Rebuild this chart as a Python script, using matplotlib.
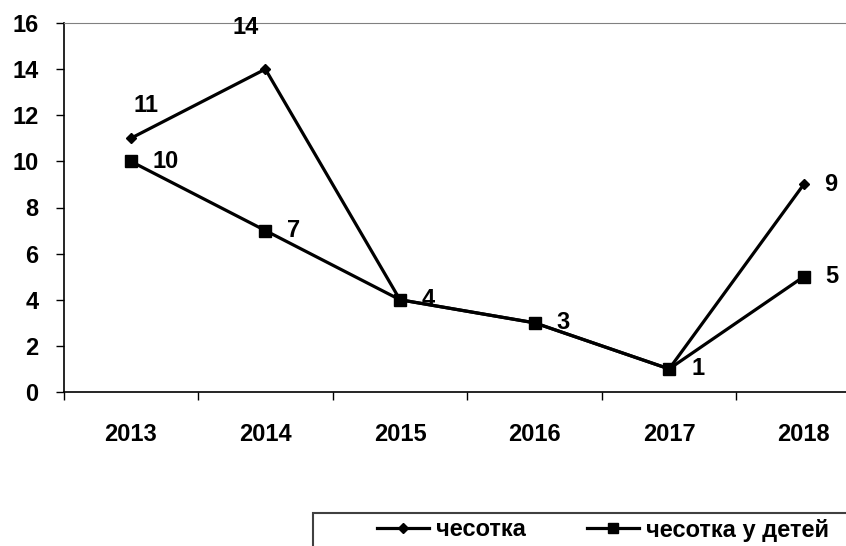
import matplotlib; matplotlib.use('Agg')
import matplotlib.pyplot as plt
from matplotlib.lines import Line2D
from matplotlib.patches import Rectangle

plt.rcParams['font.family'] = ['Liberation Sans', 'DejaVu Sans']
plt.rcParams['font.weight'] = 'bold'

years = ['2013', '2014', '2015', '2016', '2017', '2018']
scabies = [11, 14, 4, 3, 1, 9]
scabies_kids = [10, 7, 4, 3, 1, 5]
names = ['чесотка', 'чесотка у детей']

FS = 17

fig = plt.figure(figsize=(8.46, 5.46), dpi=100)
# plot area runs past the right edge of the picture, as in the reference
ax = fig.add_axes([63.5/846, 154/546, 807.5/846, 369/546])

x = list(range(len(years)))
ax.plot(x, scabies, '-', color='black', lw=2.3, marker='D', ms=5, zorder=3)
ax.plot(x, scabies_kids, '-', color='black', lw=2.3, marker='s', ms=8, zorder=4)

ax.set_xlim(-0.5, len(years) - 0.5)
ax.set_ylim(0, 16)
ax.set_yticks(range(0, 17, 2))
ax.set_xticks(x)
ax.set_xticklabels(years)
ax.set_xticks([i - 0.5 for i in range(len(years) + 1)], minor=True)
ax.tick_params(axis='x', which='major', length=0, pad=22, labelsize=FS)
ax.tick_params(axis='x', which='minor', length=6, width=1, direction='out')
ax.tick_params(axis='y', length=6, width=1, direction='out', pad=12, labelsize=FS)
for t in ax.get_xticklabels() + ax.get_yticklabels():
    t.set_fontweight('bold')

ax.spines['right'].set_visible(False)
ax.spines['top'].set_color('#808080')
ax.spines['left'].set_linewidth(1.2)
ax.spines['bottom'].set_linewidth(1.2)

# data labels
offs1 = [(3, 33), (-33, 42), None, None, None, (20, 0)]
for i, v in enumerate(scabies):
    if offs1[i] is None:
        continue
    ax.annotate(str(v), (x[i], v), xytext=offs1[i], textcoords='offset pixels',
                ha='left', va='center', fontsize=FS, fontweight='bold')
for i, v in enumerate(scabies_kids):
    ax.annotate(str(v), (x[i], v), xytext=(22, 0), textcoords='offset pixels',
                ha='left', va='center', fontsize=FS, fontweight='bold')

# legend box, cut off at the bottom right
fig.patches.append(Rectangle((313/846, -0.1), 0.7, (546 - 513)/546 + 0.1,
                             transform=fig.transFigure, fill=False,
                             edgecolor='#404040', lw=1.5))
handles = [Line2D([], [], color='black', lw=2.3, marker='D', ms=5),
           Line2D([], [], color='black', lw=2.3, marker='s', ms=7)]
fig.legend(handles, names, loc='center left', bbox_to_anchor=(377/846, 1 - 530/546),
           ncol=2, frameon=False, borderpad=0, borderaxespad=0, handlelength=2.2,
           handletextpad=0.3, columnspacing=2.6,
           prop={'size': FS, 'weight': 'bold'})

fig.savefig('out.png', dpi=100)
